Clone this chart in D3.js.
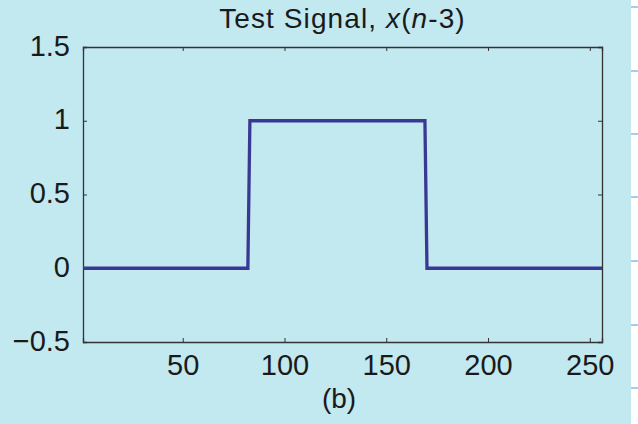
<!DOCTYPE html>
<html>
<head>
<meta charset="utf-8">
<script src="https://cdn.jsdelivr.net/npm/d3@7"></script>
<style>
  html, body { margin: 0; padding: 0; background: #c2e8f0; }
  svg { display: block; font-family: "Liberation Sans", Arial, sans-serif; }
</style>
</head>
<body>
<svg id="chart" width="638" height="424"></svg>
<script>
// signal breakpoints (sample index n, amplitude)
const sampleN = [1, 82, 83, 169, 170, 256];
const amplitude = [0, 0, 1, 1, 0, 0];
const xTicks = [50, 100, 150, 200, 250];
const yTicks = [-0.5, 0, 0.5, 1, 1.5];
const titleText = "Test Signal, ";
const captionText = "(b)";
// page-edge decoration rows on the right strip
const stripRows = [7, 71, 134, 197, 261, 325, 388];

const svg = d3.select("#chart");
const margin = {top: 47, right: 36, bottom: 82, left: 83};
const width = 638 - margin.left - margin.right;
const height = 424 - margin.top - margin.bottom;

// background + white strip on the right
svg.append("rect").attr("width", 638).attr("height", 424).attr("fill", "#c2e8f0");
svg.append("rect").attr("x", 631).attr("width", 7).attr("height", 424).attr("fill", "#ffffff");
svg.selectAll(".strip-row").data(stripRows).join("rect")
    .attr("class", "strip-row")
    .attr("x", 631).attr("y", d => d - 1).attr("width", 7).attr("height", 2)
    .attr("fill", "#a3cdf3");

const g = svg.append("g").attr("transform", `translate(${margin.left},${margin.top})`);

const x = d3.scaleLinear().domain([1, 256]).range([0, width]);
const y = d3.scaleLinear().domain([-0.5, 1.5]).range([height, 0]);

const axisColor = "#333";
const fmt = d => d < 0 ? "\u2212" + Math.abs(d) : String(d);

// bottom and left axes (ticks inside)
const xAxis = g.append("g").attr("transform", `translate(0,${height})`)
    .call(d3.axisBottom(x).tickValues(xTicks).tickSize(-4).tickPadding(12).tickFormat(fmt));
const yAxis = g.append("g")
    .call(d3.axisLeft(y).tickValues(yTicks).tickSize(-4).tickPadding(13).tickFormat(fmt));
// mirrored top and right axes
const xTop = g.append("g")
    .call(d3.axisTop(x).tickValues(xTicks).tickSize(-4).tickFormat(""));
const yRight = g.append("g").attr("transform", `translate(${width},0)`)
    .call(d3.axisRight(y).tickValues(yTicks).tickSize(-4).tickFormat(""));

[xAxis, yAxis, xTop, yRight].forEach(a => {
    a.select(".domain").attr("stroke", axisColor).attr("stroke-width", 1.3);
    a.selectAll(".tick line").attr("stroke", axisColor).attr("stroke-width", 1);
    a.selectAll(".tick text").attr("fill", "#1a1a1a").attr("font-size", 29)
        .attr("font-family", "Liberation Sans, Arial, sans-serif");
});
yAxis.selectAll(".tick text").attr("dy", "0.28em");

// signal line
const pts = sampleN.map((n, i) => ({n, v: amplitude[i]}));
g.append("path")
    .datum(pts)
    .attr("fill", "none")
    .attr("stroke", "#3b3894")
    .attr("stroke-width", 3.3)
    .attr("stroke-linejoin", "miter")
    .attr("d", d3.line().x(d => x(d.n)).y(d => y(d.v)));

// title
const title = svg.append("text")
    .attr("x", margin.left + width / 2).attr("y", 28)
    .attr("text-anchor", "middle").attr("font-size", 28)
    .attr("letter-spacing", 1.1).attr("fill", "#1a1a1a");
title.append("tspan").text(titleText);
title.append("tspan").attr("font-style", "italic").text("x");
title.append("tspan").text("(");
title.append("tspan").attr("font-style", "italic").text("n");
title.append("tspan").text("-3)");

// caption
svg.append("text")
    .attr("x", 339).attr("y", 408)
    .attr("text-anchor", "middle").attr("font-size", 28).attr("fill", "#1a1a1a")
    .text(captionText);
</script>
</body>
</html>
